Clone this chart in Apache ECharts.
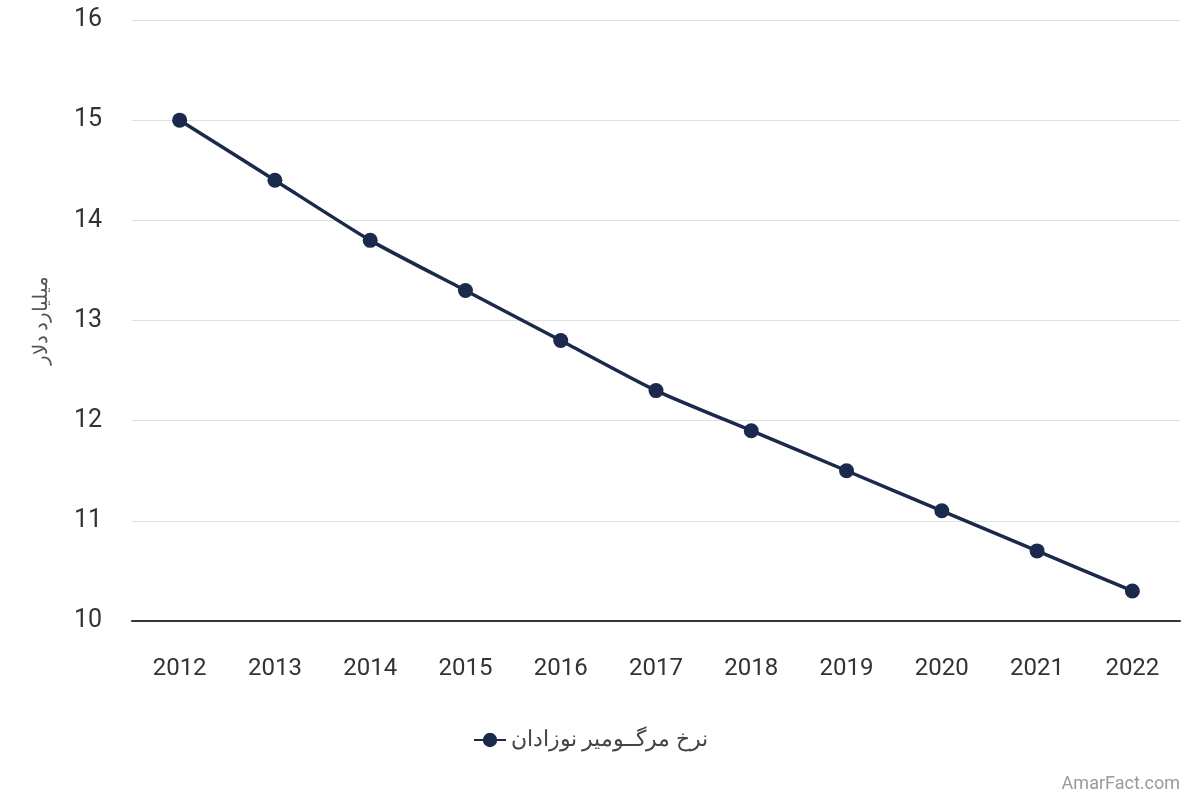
<!DOCTYPE html>
<html lang="fa">
<head>
    <meta charset="UTF-8">
    <title>نرخ مرگ‌ومیر نوزادان</title>
    <script src="https://cdn.jsdelivr.net/npm/echarts@6/dist/echarts.min.js"></script>
    <style>
        html, body { margin: 0; padding: 0; background: #fff; }
        #main { width: 1200px; height: 800px; }
    </style>
</head>
<body>
    <div id="main"></div>
    <script>
        var years = ['2012', '2013', '2014', '2015', '2016', '2017', '2018', '2019', '2020', '2021', '2022'];
        var rates = [15, 14.4, 13.8, 13.3, 12.8, 12.3, 11.9, 11.5, 11.1, 10.7, 10.3];
        var seriesName = 'نرخ مرگــومیر نوزادان';
        var yName = 'میلیارد دلار';

        var chart = echarts.init(document.getElementById('main'));
        var lineColor = '#1b2a4c';

        chart.setOption({
            animation: false,
            backgroundColor: '#fff',
            textStyle: { fontFamily: 'Roboto, "Noto Sans", sans-serif' },
            grid: { left: 132, right: 20, top: 20, bottom: 179 },
            legend: {
                bottom: 44,
                left: 468,
                itemWidth: 32,
                itemHeight: 18,
                itemGap: 10,
                textStyle: { fontSize: 22, color: '#444' },
                data: [seriesName]
            },
            graphic: [{
                type: 'text',
                right: 20,
                bottom: 7,
                style: { text: 'AmarFact.com', fontSize: 18, fill: '#9a9a9a', fontFamily: 'Roboto, sans-serif' }
            }],
            xAxis: {
                type: 'category',
                data: years,
                axisLine: { lineStyle: { color: '#333', width: 2 } },
                axisTick: { show: false },
                axisLabel: { fontSize: 24, color: '#333', margin: 36 }
            },
            yAxis: {
                type: 'value',
                min: 10,
                max: 16,
                interval: 1,
                name: yName,
                nameLocation: 'middle',
                nameGap: 80,
                nameTextStyle: { fontSize: 20, color: '#555' },
                axisLine: { show: false },
                axisTick: { show: false },
                axisLabel: { fontSize: 25, color: '#333', margin: 30 },
                splitLine: { lineStyle: { color: '#e0e0e0', width: 1 } }
            },
            series: [{
                name: seriesName,
                type: 'line',
                data: rates,
                smooth: 0.2,
                symbol: 'circle',
                symbolSize: 15,
                itemStyle: { color: lineColor },
                lineStyle: { color: lineColor, width: 3.5 }
            }]
        });
    </script>
</body>
</html>
